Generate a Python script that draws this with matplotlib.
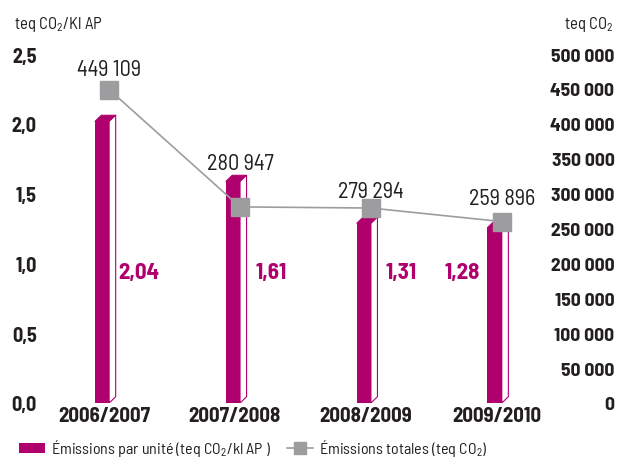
import numpy as np
import matplotlib.pyplot as plt
from matplotlib.patches import Rectangle, Polygon
from matplotlib.lines import Line2D

plt.rcParams['font.family'] = ['Barlow Semi Condensed', 'Roboto Condensed', 'DejaVu Sans']
plt.rcParams['mathtext.fontset'] = 'custom'
plt.rcParams['mathtext.rm'] = 'Barlow Semi Condensed'
plt.rcParams['mathtext.default'] = 'rm'

categories = ['2006/2007', '2007/2008', '2008/2009', '2009/2010']
par_unite = [2.04, 1.61, 1.31, 1.28]
par_unite_labels = ['2,04', '1,61', '1,31', '1,28']
totales = [449109, 280947, 279294, 259896]
totales_labels = ['449 109', '280 947', '279 294', '259 896']
left_ticks = [0, 0.5, 1.0, 1.5, 2.0, 2.5]
left_tick_labels = ['0,0', '0,5', '1,0', '1,5', '2,0', '2,5']
right_ticks = list(range(0, 500001, 50000))
right_tick_labels = ['0', '50 000', '100 000', '150 000', '200 000', '250 000',
                     '300 000', '350 000', '400 000', '450 000', '500 000']

magenta = '#b0006e'
gris = '#9d9d9f'
texte = '#231f20'

fig = plt.figure(figsize=(6.17, 4.6), dpi=100)
ax = fig.add_axes([45/617, 1-404/460, 500/617, 349/460])
ax.set_xlim(-0.45, 3.37)
ax.set_ylim(0, 2.5)

x = np.arange(len(categories))
w = 0.11
d = 0.05
dy = 0.045
for i, v in enumerate(par_unite):
    x0 = x[i] - 0.07
    h = v - dy / 2
    ax.add_patch(Polygon([(x0 + w, 0), (x0 + w + d, dy), (x0 + w + d, h + dy), (x0 + w, h)],
                         closed=True, facecolor='white', edgecolor=magenta, lw=0.8, zorder=2))
    ax.add_patch(Rectangle((x0, 0), w, h, facecolor=magenta, edgecolor='none', zorder=2))
    ax.add_patch(Polygon([(x0, h), (x0 + d, h + dy), (x0 + w + d, h + dy), (x0 + w, h)],
                         closed=True, facecolor=magenta, edgecolor=magenta, lw=0.5, zorder=2))

# position of the magenta value labels relative to the bars
offsets = [0.27, 0.28, 0.27, -0.26]
for i, lab in enumerate(par_unite_labels):
    ax.text(x[i] + offsets[i], 0.94, lab, color=magenta, fontsize=16.5, fontweight='bold',
            ha='center', va='center')

ax.set_yticks(left_ticks)
ax.set_yticklabels(left_tick_labels, fontsize=14.5, fontweight='bold', color=texte)
ax.set_xticks(x)
ax.set_xticklabels(categories, fontsize=15, fontweight='bold', color=texte)
ax.tick_params(length=0)
ax.tick_params(axis='y', pad=6)
ax.tick_params(axis='x', pad=2)
for s in ax.spines.values():
    s.set_visible(False)

ax2 = ax.twinx()
ax2.set_ylim(0, 500000)
ax2.plot(x + 0.04, totales, color=gris, lw=1.2, marker='s', markersize=13,
         markerfacecolor=gris, markeredgecolor=gris, zorder=3)
# vertical offsets (pixels) of the total labels above their markers
lab_dy = [20, 43, 17, 23]
for i, lab in enumerate(totales_labels):
    ax2.annotate(lab, (x[i] + 0.04, totales[i]), xytext=(0, lab_dy[i]), textcoords='offset pixels',
                 color=texte, fontsize=16, ha='center', va='center')
ax2.set_yticks(right_ticks)
ax2.set_yticklabels(right_tick_labels, fontsize=14, fontweight='bold', color=texte)
plt.setp(ax2.get_yticklabels(), ha='right')
ax2.tick_params(length=0, pad=50)
for s in ax2.spines.values():
    s.set_visible(False)

fig.text(14/617, 1-25/460, 'teq CO$_2$/Kl AP', fontsize=12, color=texte, ha='left', va='center')
fig.text(614/617, 1-25/460, 'teq CO$_2$', fontsize=12, color=texte, ha='right', va='center')

handles = [Rectangle((0, 0), 1, 1, facecolor=magenta, edgecolor='none'),
           Line2D([], [], color=gris, lw=1.2, marker='s', markersize=9,
                  markerfacecolor=gris, markeredgecolor=gris)]
labels = ['Émissions par unité (teq CO$_2$/kl AP )', 'Émissions totales (teq CO$_2$)']
fig.legend(handles, labels, loc='lower left', bbox_to_anchor=(0.008, -0.03), ncol=2,
           frameon=False, fontsize=11.5, handlelength=1.6, handleheight=0.6, handletextpad=0.4,
           columnspacing=1.0, labelcolor=texte)

fig.savefig('out.png', dpi=100)
